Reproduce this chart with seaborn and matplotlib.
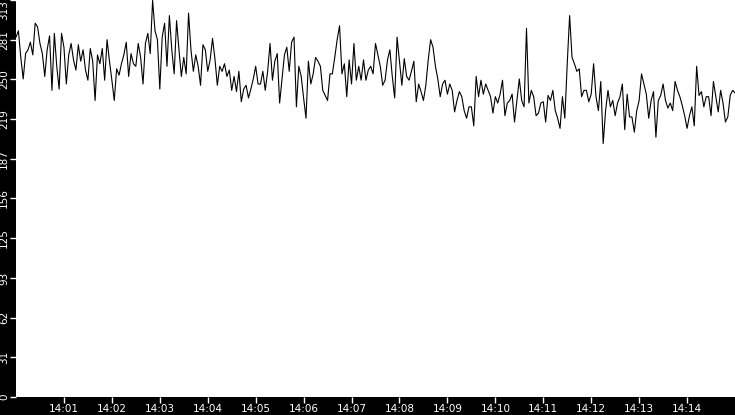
import numpy as np
import pandas as pd
import matplotlib
matplotlib.use("Agg")
import matplotlib.pyplot as plt
import seaborn as sns

# ---- data (one sample every 3 s from 14:00:00) ----
seg1 = [284, 289, 268, 251, 271, 274, 280, 270, 295, 292, 279, 271, 253, 274, 285, 242, 287, 261, 243, 287,
        276, 247, 270, 279, 266, 258, 278, 265, 274, 258, 250, 275, 265, 234, 270, 263, 275, 250, 282, 265,
        250, 234, 259, 254, 263, 270, 280, 253, 271, 263]
seg2 = [261, 279, 268, 247, 279, 287, 271, 313, 289, 282, 243, 284, 295, 261, 301, 274, 255, 297, 274, 253,
        268, 255, 303, 274, 257, 270, 261, 246, 278, 274, 257, 266, 283, 267, 246, 261, 257, 263, 253, 258,
        242, 253, 241, 257, 233, 243, 246, 236, 243, 251]
seg3 = [261, 247, 247, 257, 242, 257, 279, 250, 265, 271, 232, 251, 270, 276, 257, 280, 284, 229, 261, 253,
        236, 220, 265, 247, 255, 268, 265, 261, 242, 238, 234, 255, 255, 268, 282, 293, 255, 263, 237, 266,
        247, 279, 250, 261, 250, 266, 250, 258, 261, 255]
seg4 = [279, 270, 261, 246, 250, 266, 274, 253, 236, 284, 265, 246, 267, 253, 250, 257, 265, 233, 247, 241,
        234, 246, 266, 282, 276, 261, 251, 237, 247, 250, 239, 247, 242, 225, 234, 241, 237, 226, 220, 229,
        229, 214, 253, 237, 250, 239, 247, 242, 237, 224]
seg5 = [237, 232, 239, 250, 222, 232, 234, 239, 217, 234, 251, 234, 229, 291, 232, 242, 237, 222, 224, 232,
        233, 217, 238, 234, 242, 226, 220, 212, 237, 220, 263, 301, 268, 263, 257, 259, 237, 242, 242, 233,
        239, 263, 237, 226, 249, 200, 226, 242, 229, 234]
seg6 = [222, 232, 237, 247, 211, 239, 221, 221, 209, 226, 234, 255, 247, 239, 220, 234, 241, 205, 234, 238,
        247, 234, 228, 232, 226, 249, 242, 237, 230, 222, 212, 222, 229, 214, 261, 238, 241, 229, 237, 237,
        222, 249, 237, 225, 242, 232, 217, 221, 238, 242, 240]

values = seg1 + seg2 + seg3 + seg4 + seg5 + seg6
seconds = np.arange(len(values)) * 3          # seconds after 14:00:00

tick_seconds = [60, 120, 180, 240, 300, 360, 420, 480, 540, 600, 660, 720, 780, 840]
tick_labels = ["14:01", "14:02", "14:03", "14:04", "14:05", "14:06", "14:07",
               "14:08", "14:09", "14:10", "14:11", "14:12", "14:13", "14:14"]

y_max = 313.3
y_ticks = list(np.linspace(0, y_max, 11))
y_labels = [str(int(v)) for v in y_ticks]

df = pd.DataFrame({"t": seconds, "v": values})

# ---- figure ----
sns.set_style("white")
fig = plt.figure(figsize=(7.35, 4.15), dpi=100, facecolor="black")
ax = fig.add_axes([16 / 735, 18 / 415, 1 - 16 / 735, 1 - 18 / 415])
ax.set_facecolor("white")

sns.lineplot(data=df, x="t", y="v", ax=ax, color="black", linewidth=0.8, estimator=None)

ax.set_xlim(0, 900)
ax.set_ylim(0, y_max)
ax.set_xticks(tick_seconds)
ax.set_xticklabels(tick_labels)
ax.set_yticks(y_ticks)
ax.set_yticklabels(y_labels, rotation=90, va="center")
ax.set_xlabel("")
ax.set_ylabel("")

ax.tick_params(axis="both", colors="white", labelcolor="white", labelsize=7.5,
               length=4, width=1, direction="out", pad=1,
               bottom=True, left=True)
ylabs = ax.get_yticklabels()
ylabs[-1].set_va("top")
for s in ax.spines.values():
    s.set_visible(False)

fig.savefig("out.png", dpi=100, facecolor="black")
